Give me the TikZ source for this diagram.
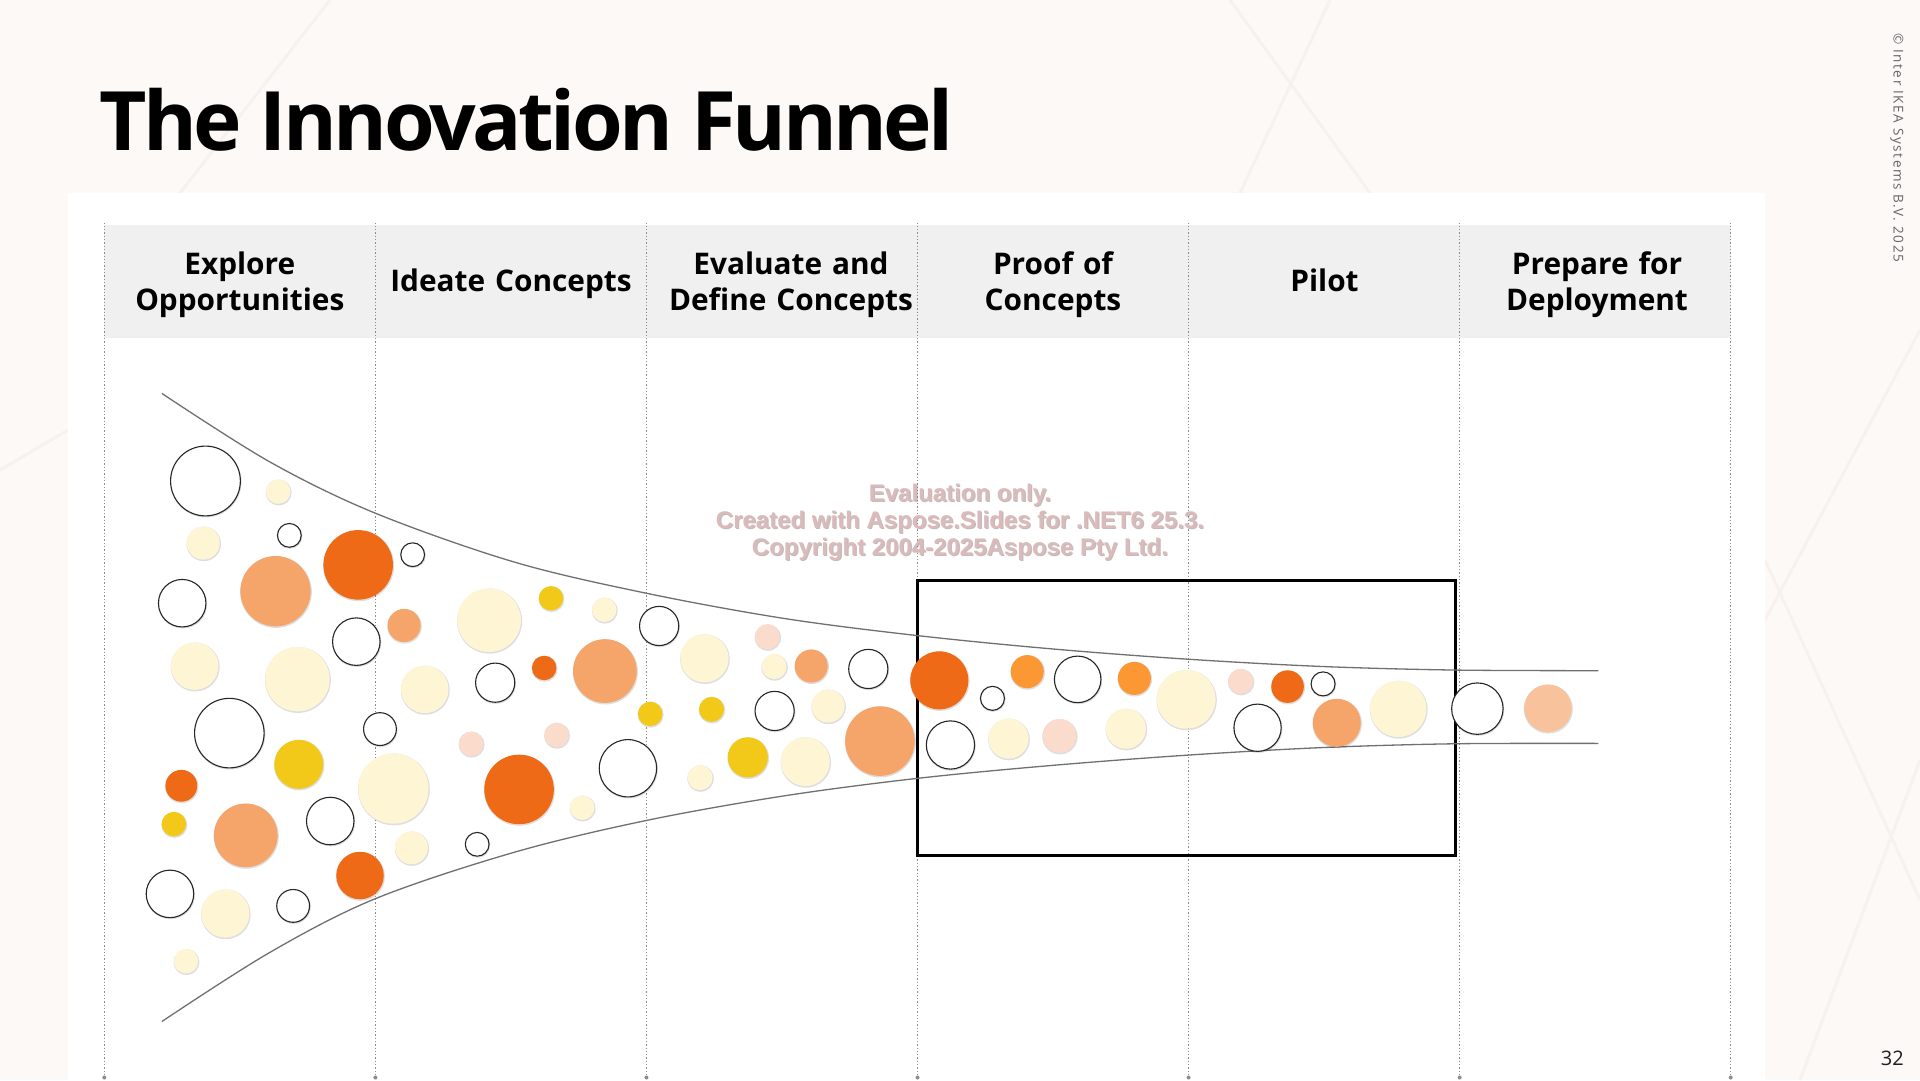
\documentclass[tikz,border=0pt]{standalone}
\usepackage{fontspec}
\setmainfont{Open Sans}
\newfontfamily\wmfont{Liberation Sans}
\newfontfamily\copyfont[LetterSpace=11.5]{Open Sans}
\newfontfamily\titlefont[LetterSpace=-4.3]{Open Sans}

\definecolor{pagebg}{RGB}{252,249,247}
\definecolor{bgline}{RGB}{248,242,238}
\definecolor{bandgray}{RGB}{240,240,240}
\definecolor{dotgray}{RGB}{140,140,140}
\definecolor{funnelgray}{RGB}{112,112,112}
\definecolor{darkor}{RGB}{239,106,22}
\definecolor{salmon}{RGB}{245,164,106}
\definecolor{midor}{RGB}{251,152,52}
\definecolor{cream}{RGB}{253,245,212}
\definecolor{sun}{RGB}{242,201,24}
\definecolor{blush}{RGB}{250,219,204}
\definecolor{peach}{RGB}{247,194,156}
\definecolor{wmpink}{RGB}{218,186,186}
\definecolor{wmshade}{RGB}{140,120,120}

% one bubble list: #1 = style, #2 = x/y/r triples (inner units)
\newcommand\bubbles[2]{%
  \foreach \cx/\cy/\cr in {#2}{%
    \fill[black,opacity=0.13] (\cx+0.4,\cy+0.7) circle[radius=\cr+0.6];
    \path[#1] (\cx,\cy) circle[radius=\cr];
  }}

\begin{document}
\begin{tikzpicture}[x=1pt,y=-1pt,
  hdr/.style={font=\bfseries\fontsize{29.8}{36}\selectfont, text width=280pt,
    align=center, anchor=base, inner sep=0pt},
  divider/.style={draw=dotgray, dotted, line width=1.3pt},
  funnelline/.style={draw=funnelgray, line width=1.3pt},
  bubO/.style={fill=white, draw=black!85, line width=1.1pt},
  bubC/.style={fill=cream},
  bubS/.style={fill=salmon},
  bubD/.style={fill=darkor},
  bubM/.style={fill=midor},
  bubY/.style={fill=sun},
  bubP/.style={fill=blush},
  bubE/.style={fill=peach},
  wm/.style={font=\wmfont\bfseries\fontsize{24}{27}\selectfont, align=center, inner sep=0pt}]

% page and panel
\useasboundingbox (0,0) rectangle (1920,1080);
\fill[pagebg] (0,0) rectangle (1920,1080);
\begin{scope}[bgline, line width=3pt]
  \draw (1230,0) -- (1370,193);
  \draw (1330,0) -- (1240,193);
  \draw (330,0) -- (180,193);
  \draw (0,470) -- (68,430);
  \draw (1765,620) -- (1920,330);
  \draw (1765,560) -- (1920,900);
  \draw (1800,1080) -- (1920,760);
\end{scope}
\fill[white] (68,193) rectangle (1765,1080);

% title
\node[anchor=base west, inner sep=0pt, font=\titlefont\bfseries\fontsize{82}{90}\selectfont] (title) at (99,150) {The Innovation Funnel};

% copyright and page number
\node[rotate=-90, anchor=west, inner sep=0pt, text=black!60, font=\copyfont\fontsize{13.5}{15}\selectfont] (copy) at (1897,33) {© Inter IKEA Systems B.V. 2025};
\node[anchor=base east, inner sep=0pt, text=black!88, font=\fontsize{20}{24}\selectfont] (pagenum) at (1904,1065) {32};

% header band
\fill[bandgray] (104.3,225) rectangle (1730.7,337.7);

% column dividers
\foreach \i in {0,...,6}{
  \coordinate (dtop\i) at ({104.3+271.07*\i},222.5);
  \coordinate (dbot\i) at ({104.3+271.07*\i},1080);
  \draw[divider] (dtop\i) -- (dbot\i);
  \fill[dotgray] ({104.3+271.07*\i},1077.5) circle[radius=2];
}

% column headings
\node[hdr] (h1) at (239.8,274) {Explore\\Opportunities};
\node[hdr] (h2) at (511,291.7) {Ideate Concepts};
\node[hdr] (h3) at (791,274) {Evaluate and\\Define Concepts};
\node[hdr] (h4) at (1053,274) {Proof of\\Concepts};
\node[hdr] (h5) at (1324.5,291.7) {Pilot};
\node[hdr] (h6) at (1597,274) {Prepare for\\Deployment};

% watermark
\node[wm, text=wmshade, opacity=0.5] at (961.2,523.2) {Evaluation only.\\Created with Aspose.Slides for .NET6 25.3.\\Copyright 2004-2025Aspose Pty Ltd.};
\node[wm, text=wmpink] (wmark) at (960,522) {Evaluation only.\\Created with Aspose.Slides for .NET6 25.3.\\Copyright 2004-2025Aspose Pty Ltd.};

% highlight frame around the proof-of-concept and pilot stages
\draw[black, line width=3pt] (917.9,580.4) rectangle (1455,855.3);

\begin{scope}[scale=1.2245]
% funnel outline
\draw[funnelline] plot[smooth, tension=0.55] coordinates {(132.2,321.3) (220,377) (306.3,419) (420,459) (528,484.5) (640,505) (749.6,519.1) (860,530) (971,538.4) (1080,544.3) (1188,547.2) (1305.3,547.7)};
\draw[funnelline] plot[smooth, tension=0.55] coordinates {(132.2,834.2) (220,778) (306.3,734) (420,696) (528,670) (640,650) (749.6,635.6) (860,625) (971,616.6) (1080,610.5) (1188,607.4) (1305.3,607.1)};

% ideas flowing through the funnel
\bubbles{bubO}{167.8/392.8/28.5, 236.3/437.2/9.7, 337/453/9.7, 148.8/492.6/19.4, 291/524/19.4,
  187.3/598.7/28.4, 310.3/595.4/13.4, 269.7/670.5/19.4, 138.8/730/19.4, 239.4/739.8/13.4,
  389.7/689.5/9.7, 404.4/557.5/16, 538.3/511.2/16, 512.8/627.4/23.4, 632.6/580.6/16,
  709.1/546.3/16, 810.5/570.3/9.8, 880.1/554.8/19, 776.2/608.4/19.7, 1027/594.3/19.3,
  1080.5/558.5/9.8, 1206.5/578.7/21}
\bubbles{bubC}{227.2/401.5/10, 166/443.5/13.5, 159/544/19.4, 242.9/554.6/26.3, 321.3/644/28.7,
  336/692.4/13.4, 184/746/19.7, 151.9/785/10, 399.4/506.5/26, 493.5/498/10, 346.9/563/19.4,
  475.4/659.6/10, 575.3/537.6/19.7, 632.2/544.4/10.2, 676.3/576.6/13.5, 571.7/635.1/10.2,
  657.7/622/20, 823.6/603.2/16.4, 919.5/595.1/16.4, 968.7/571.1/24, 1141.9/578.9/23}
\bubbles{bubS}{225/482.8/28.7, 330/510.8/13.5, 200.7/682.2/26, 494/548/26, 662.5/543.9/13.5,
  718.6/605.2/28.4, 1091.7/590.3/19.6}
\bubbles{bubD}{292.5/461.3/28.4, 148.1/641.7/13, 294/715/19.4, 444.4/545.5/10, 423.9/644.7/28.4,
  767.1/555.6/23.7, 1051.5/560.7/13.3}
\bubbles{bubM}{838.9/548.5/13.5, 926.4/554/13.5}
\bubbles{bubY}{244/624.2/20, 142/673/10, 450/488.6/10, 531/583/10, 581.1/579.3/10.2, 610.7/618.5/16.4}
\bubbles{bubP}{384.7/607.4/10, 454.5/600.2/10, 626.7/520/10.2, 865.2/601/13.8, 1013.2/556.4/10.2}
\bubbles{bubE}{1264.1/578.4/19.4}
\end{scope}

\end{tikzpicture}
\end{document}
